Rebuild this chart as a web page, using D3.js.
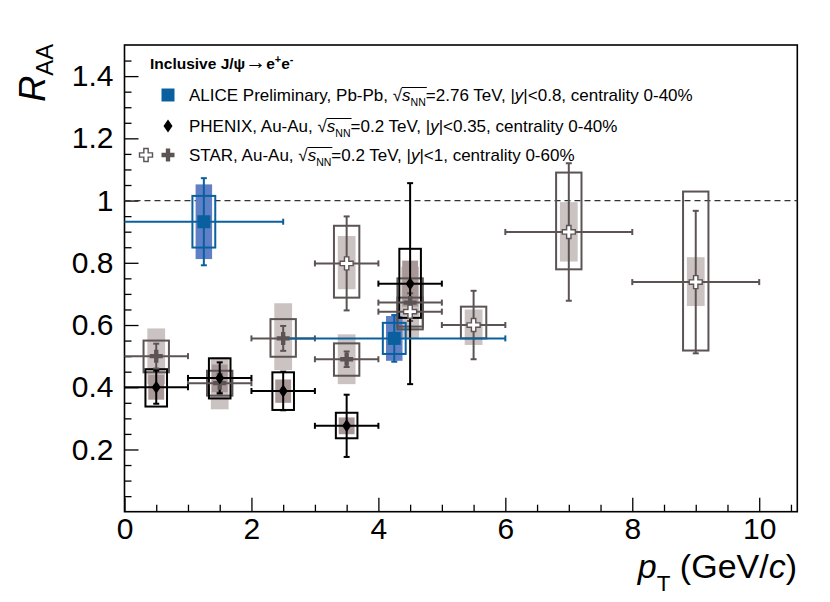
<!DOCTYPE html>
<html><head><meta charset="utf-8">
<script src="https://cdn.jsdelivr.net/npm/d3@7"></script>
<style>
body{margin:0;background:#fff}
svg{display:block}
text{font-family:"Liberation Sans",Arial,Helvetica,sans-serif}
</style>
</head><body>
<svg id="c" width="830" height="602"></svg>
<script>
// ---------------- data ----------------
const xTickValues = [0, 2, 4, 6, 8, 10];
const yTickValues = [0.2, 0.4, 0.6, 0.8, 1, 1.2, 1.4];

// ALICE Preliminary, Pb-Pb 2.76 TeV
const alicePt    = [1.25, 4.25];
const alicePtLo  = [0, 2.5];
const alicePtHi  = [2.5, 6];
const aliceRaa   = [0.932, 0.557];
const aliceStat  = [0.14, 0.075];
const aliceSysUp = [0.083, 0.05];
const aliceSysDn = [0.083, 0.05];
const aliceCorUp = [0.12, 0.072];
const aliceCorDn = [0.12, 0.072];

// PHENIX, Au-Au 0.2 TeV
const phenixPt    = [0.5, 1.5, 2.5, 3.5, 4.5];
const phenixPtLo  = [0, 1, 2, 3, 4];
const phenixPtHi  = [1, 2, 3, 4, 5];
const phenixRaa   = [0.40, 0.43, 0.388, 0.276, 0.733];
const phenixStat  = [0.053, 0.05, 0.062, 0.10, 0.323];
const phenixSysUp = [0.058, 0.063, 0.06, 0.042, 0.112];
const phenixSysDn = [0.062, 0.066, 0.061, 0.04, 0.11];
const phenixCorUp = [0.04, 0.043, 0.037, 0.027, 0.074];
const phenixCorDn = [0.04, 0.046, 0.038, 0.027, 0.074];

// STAR, Au-Au 0.2 TeV (filled crosses)
const starLowPt    = [0.5, 1.5, 2.5, 3.5, 4.5];
const starLowPtLo  = [0, 1, 2, 3, 4];
const starLowPtHi  = [1, 2, 3, 4, 5];
const starLowRaa   = [0.50, 0.413, 0.557, 0.49, 0.672];
const starLowStat  = [0.04, 0.03, 0.04, 0.025, 0.03];
const starLowSysUp = [0.05, 0.04, 0.062, 0.051, 0.078];
const starLowSysDn = [0.052, 0.04, 0.059, 0.053, 0.086];
const starLowCorUp = [0.089, 0.084, 0.113, 0.08, 0.115];
const starLowCorDn = [0.089, 0.084, 0.102, 0.08, 0.115];

// STAR, Au-Au 0.2 TeV (open crosses)
const starHighPt    = [3.5, 4.5, 5.5, 7, 9];
const starHighPtLo  = [3, 4, 5, 6, 8];
const starHighPtHi  = [4, 5, 6, 8, 10];
const starHighRaa   = [0.798, 0.643, 0.60, 0.899, 0.738];
const starHighStat  = [0.151, 0.03, 0.11, 0.221, 0.229];
const starHighSysUp = [0.121, 0.045, 0.059, 0.191, 0.291];
const starHighSysDn = [0.11, 0.048, 0.043, 0.12, 0.22];
const starHighCorUp = [0.088, 0.03, 0.05, 0.096, 0.08];
const starHighCorDn = [0.083, 0.03, 0.064, 0.095, 0.077];

// ---------------- layout ----------------
const L = 124.5, R = 797.3, T = 45, B = 511.7;
const x = d3.scaleLinear().domain([0, 10.6]).range([L, R]);
const y = d3.scaleLinear().domain([0, 1.5]).range([B, T]);

const svg = d3.select("#c");

function build(pt, lo, hi, raa, stat, sU, sD, cU, cD) {
  return pt.map((p, i) => ({pt: p, lo: lo[i], hi: hi[i], v: raa[i], stat: stat[i],
    sU: sU[i], sD: sD[i], cU: cU[i], cD: cD[i]}));
}
const alice = build(alicePt, alicePtLo, alicePtHi, aliceRaa, aliceStat, aliceSysUp, aliceSysDn, aliceCorUp, aliceCorDn);
const phenix = build(phenixPt, phenixPtLo, phenixPtHi, phenixRaa, phenixStat, phenixSysUp, phenixSysDn, phenixCorUp, phenixCorDn);
const starLow = build(starLowPt, starLowPtLo, starLowPtHi, starLowRaa, starLowStat, starLowSysUp, starLowSysDn, starLowCorUp, starLowCorDn);
const starHigh = build(starHighPt, starHighPtLo, starHighPtHi, starHighRaa, starHighStat, starHighSysUp, starHighSysDn, starHighCorUp, starHighCorDn);

const ALICE_C = "#0a609e", ALICE_FILL = "#5f80c6";
const PHENIX_C = "#000000", PHENIX_FILL = "#a89898";
const STAR_C = "#5c5454", STAR_FILL = "#cbc3c2";

const styles = {
  alice:  {line: ALICE_C, fill: ALICE_FILL, boxHW: 0.18, fillHW: 0.13, lw: 2},
  phenix: {line: PHENIX_C, fill: PHENIX_FILL, boxHW: 0.17, fillHW: 0.125, lw: 2},
  star:   {line: STAR_C, fill: STAR_FILL, boxHW: 0.2, fillHW: 0.14, lw: 2}
};

// ---------------- axes ----------------
const gx = svg.append("g").attr("transform", `translate(0,${B})`);
gx.call(d3.axisBottom(x).tickValues(d3.range(0, 10.51, 0.5)).tickSizeInner(-7).tickSizeOuter(0)
  .tickPadding(6).tickFormat(d => xTickValues.includes(d) ? String(d) : ""));
gx.select(".domain").remove();
gx.selectAll(".tick line").attr("y2", d => xTickValues.includes(d) ? -14 : -7).attr("stroke", "#000").attr("stroke-width", 1.3);
gx.selectAll(".tick text").attr("font-size", 30).attr("fill", "#000").style("font-family", '"Liberation Sans",Arial,sans-serif');

const gy = svg.append("g").attr("transform", `translate(${L},0)`);
const yMinor = d3.range(0, 31).map(i => +(i * 0.05).toFixed(2)).filter(v => v > 0 && v < 1.5);
gy.call(d3.axisLeft(y).tickValues(yMinor).tickSizeInner(-7).tickSizeOuter(0)
  .tickPadding(11).tickFormat(d => yTickValues.some(t => Math.abs(t - d) < 1e-6) ? (d === 1 ? "1" : d3.format(".1f")(d)) : ""));
gy.select(".domain").remove();
gy.selectAll(".tick line").attr("x2", d => yTickValues.some(t => Math.abs(t - d) < 1e-6) ? 14 : 7).attr("stroke", "#000").attr("stroke-width", 1.3);
gy.selectAll(".tick text").attr("font-size", 30).attr("fill", "#000").style("font-family", '"Liberation Sans",Arial,sans-serif');

// frame
svg.append("rect").attr("x", L).attr("y", T).attr("width", R - L).attr("height", B - T)
  .attr("fill", "none").attr("stroke", "#000").attr("stroke-width", 1.6);

// dashed unity line
svg.append("line").attr("x1", x(0)).attr("x2", x(10.6)).attr("y1", y(1)).attr("y2", y(1))
  .attr("stroke", "#333").attr("stroke-width", 1.2).attr("stroke-dasharray", "6,4");

// ---------------- data drawing ----------------
const gFill = svg.append("g"), gBox = svg.append("g"), gBar = svg.append("g"), gMark = svg.append("g");

function fills(data, st) {
  gFill.selectAll(null).data(data).enter().append("rect")
    .attr("x", d => x(d.pt - st.fillHW)).attr("width", d => x(d.pt + st.fillHW) - x(d.pt - st.fillHW))
    .attr("y", d => y(d.v + d.cU)).attr("height", d => y(d.v - d.cD) - y(d.v + d.cU))
    .attr("fill", st.fill);
}
function boxes(data, st) {
  gBox.selectAll(null).data(data).enter().append("rect")
    .attr("x", d => x(d.pt - st.boxHW)).attr("width", d => x(d.pt + st.boxHW) - x(d.pt - st.boxHW))
    .attr("y", d => y(d.v + d.sU)).attr("height", d => y(d.v - d.sD) - y(d.v + d.sU))
    .attr("fill", "none").attr("stroke", st.line).attr("stroke-width", st.lw);
}
function bars(data, st) {
  const g = gBar.append("g").attr("stroke", st.line).attr("stroke-width", st.lw);
  data.forEach(d => {
    const cx = x(d.pt), cy = y(d.v);
    g.append("line").attr("x1", x(d.lo)).attr("x2", x(d.hi)).attr("y1", cy).attr("y2", cy);
    if (d.lo > 0) g.append("line").attr("x1", x(d.lo)).attr("x2", x(d.lo)).attr("y1", cy - 3).attr("y2", cy + 3);
    g.append("line").attr("x1", x(d.hi)).attr("x2", x(d.hi)).attr("y1", cy - 3).attr("y2", cy + 3);
    g.append("line").attr("x1", cx).attr("x2", cx).attr("y1", y(d.v + d.stat)).attr("y2", y(d.v - d.stat));
    g.append("line").attr("x1", cx - 3).attr("x2", cx + 3).attr("y1", y(d.v + d.stat)).attr("y2", y(d.v + d.stat));
    g.append("line").attr("x1", cx - 3).attr("x2", cx + 3).attr("y1", y(d.v - d.stat)).attr("y2", y(d.v - d.stat));
  });
}

function squarePath(s) { const h = s / 2; return `M${-h},${-h}H${h}V${h}H${-h}Z`; }
function diamondPath(w, h) { return `M0,${-h / 2}L${w / 2},0L0,${h / 2}L${-w / 2},0Z`; }
function crossPath(s) {
  const a = s / 2, b = s / 6;
  return `M${-b},${-a}H${b}V${-b}H${a}V${b}H${b}V${a}H${-b}V${b}H${-a}V${-b}H${-b}Z`;
}

function markers(data, path, fill, stroke, sw) {
  gMark.selectAll(null).data(data).enter().append("path")
    .attr("d", path).attr("transform", d => `translate(${x(d.pt)},${y(d.v)})`)
    .attr("fill", fill).attr("stroke", stroke).attr("stroke-width", sw);
}

fills(starLow, styles.star); fills(starHigh, styles.star);
fills(phenix, styles.phenix);
fills(alice, styles.alice);
boxes(starLow, styles.star); boxes(starHigh, styles.star);
boxes(phenix, styles.phenix);
boxes(alice, styles.alice);
bars(starLow, styles.star); bars(starHigh, styles.star);
bars(phenix, styles.phenix);
bars(alice, styles.alice);
markers(starLow, crossPath(13), STAR_C, "none", 0);
markers(starHigh, crossPath(13), "#fff", STAR_C, 1.4);
markers(phenix, diamondPath(9, 13), "#000", "none", 0);
markers(alice, squarePath(13), ALICE_C, "none", 0);

// ---------------- rich text helper ----------------
function rich(parent, px, py, size, segs, attrs) {
  const t = parent.append("text").attr("x", px).attr("y", py).attr("font-size", size).attr("fill", "#000");
  if (attrs) Object.entries(attrs).forEach(([k, v]) => t.attr(k, v));
  let shift = 0;
  const spans = [];
  segs.forEach(s => {
    const ts = t.append("tspan").text(s.t);
    const target = s.sub ? size * (s.subShift || 0.3) : s.sup ? -size * 0.38 : 0;
    if (target - shift !== 0) ts.attr("dy", target - shift);
    shift = target;
    if (s.sub || s.sup) ts.attr("font-size", size * (s.scale || 0.7));
    if (s.big) ts.attr("font-size", size * s.big);
    if (s.it) ts.attr("font-style", "italic");
    if (s.bold) ts.attr("font-weight", "bold");
    spans.push({seg: s, node: ts.node()});
  });
  return {text: t, spans};
}

function sqrtSegs() {
  return [{t: "\u221A", root: true}, {t: "s", it: true, over: true}, {t: "NN", sub: true, over: true, scale: 0.62}];
}
function drawOverline(parent, r) {
  const rootSpan = r.spans.find(s => s.seg.root);
  const over = r.spans.filter(s => s.seg.over);
  if (!rootSpan || !over.length) return;
  try {
    const b0 = rootSpan.node.getBBox();
    const b1 = over[over.length - 1].node.getBBox();
    const yTop = b0.y + 1.5;
    parent.append("line").attr("x1", b0.x + b0.width - 1).attr("x2", b1.x + b1.width + 1)
      .attr("y1", yTop).attr("y2", yTop).attr("stroke", "#000").attr("stroke-width", 1);
  } catch (e) {}
}

// ---------------- legend ----------------
const lg = svg.append("g");
rich(lg, 150, 69, 15.5, [{t: "Inclusive J/\u03C8"}, {t: "\u2192", big: 1.35}, {t: "e"}, {t: "+", sup: true}, {t: "e"}, {t: "-", sup: true}], {"font-weight": "bold"});

const LS = 17;
const legendRows = [
  {y: 101, segs: [{t: "ALICE Preliminary, Pb-Pb, "}, ...sqrtSegs(), {t: "=2.76 TeV, |"}, {t: "y", it: true}, {t: "|<0.8, centrality 0-40%"}]},
  {y: 132, segs: [{t: "PHENIX, Au-Au, "}, ...sqrtSegs(), {t: "=0.2 TeV, |"}, {t: "y", it: true}, {t: "|<0.35, centrality 0-40%"}]},
  {y: 161, segs: [{t: "STAR, Au-Au, "}, ...sqrtSegs(), {t: "=0.2 TeV, |"}, {t: "y", it: true}, {t: "|<1, centrality 0-60%"}]}
];
legendRows.forEach(r => {
  const rr = rich(lg, 189, r.y, LS, r.segs);
  drawOverline(lg, rr);
});
lg.append("path").attr("d", squarePath(13)).attr("transform", "translate(168,95)").attr("fill", ALICE_C);
lg.append("path").attr("d", diamondPath(9, 13)).attr("transform", "translate(168,126)").attr("fill", "#000");
lg.append("path").attr("d", crossPath(13)).attr("transform", "translate(146,155)").attr("fill", "#fff").attr("stroke", STAR_C).attr("stroke-width", 1.4);
lg.append("path").attr("d", crossPath(13)).attr("transform", "translate(168,155)").attr("fill", STAR_C);

// ---------------- axis titles ----------------
rich(svg, 0, 0, 36, [{t: "R", it: true}, {t: "AA", sub: true, subShift: 0.22, scale: 0.66}],
  {"text-anchor": "end", transform: "translate(45,44) rotate(-90)"});
rich(svg, 797, 578, 34, [{t: "p", it: true}, {t: "T", sub: true, subShift: 0.38, scale: 0.66}, {t: " (GeV/"}, {t: "c", it: true}, {t: ")"}],
  {"text-anchor": "end"});
</script>
</body></html>
